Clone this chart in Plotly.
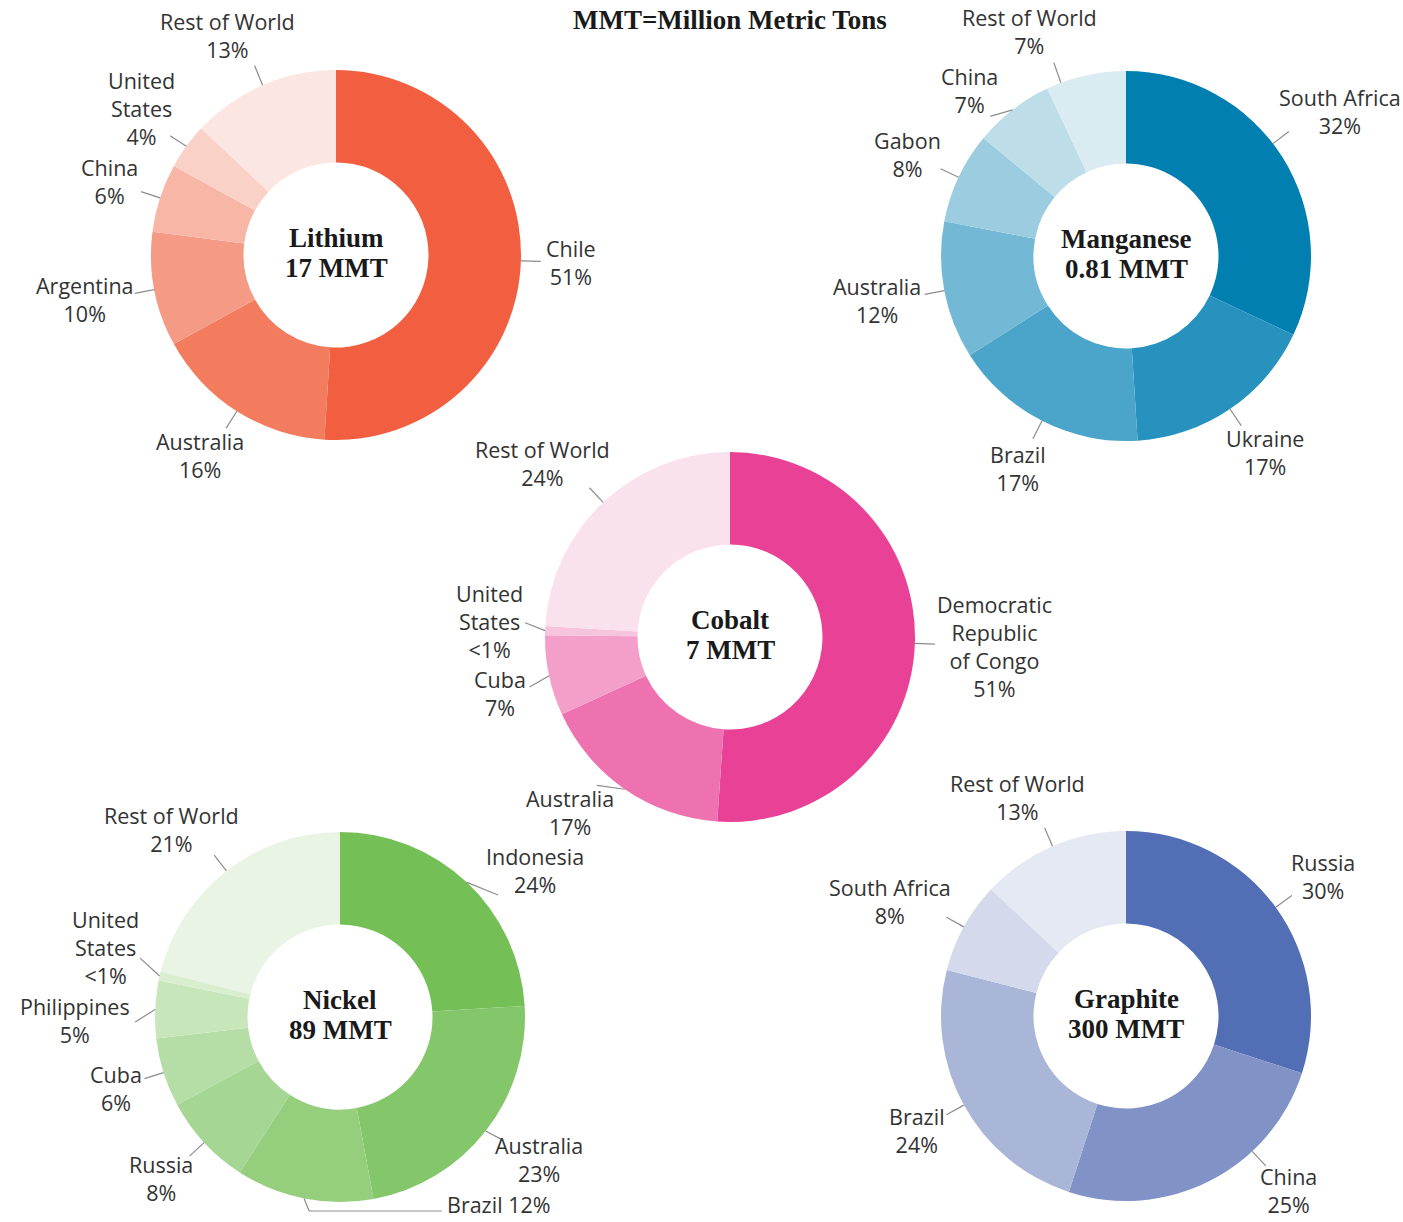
import math
import plotly.graph_objects as go

W, H = 1403, 1222

# ---- data ----
minerals = ["Lithium", "Manganese", "Cobalt", "Nickel", "Graphite"]
reserves_mmt = ["17", "0.81", "7", "89", "300"]

lithium_countries = ["Chile", "Australia", "Argentina", "China", "United States", "Rest of World"]
lithium_share = [51, 16, 10, 6, 4, 13]

manganese_countries = ["South Africa", "Ukraine", "Brazil", "Australia", "Gabon", "China", "Rest of World"]
manganese_share = [32, 17, 17, 12, 8, 7, 7]

cobalt_countries = ["Democratic Republic of Congo", "Australia", "Cuba", "United States", "Rest of World"]
cobalt_share = [51, 17, 7, 0.8, 24]

nickel_countries = ["Indonesia", "Australia", "Brazil", "Russia", "Cuba", "Philippines",
                    "United States", "Rest of World"]
nickel_share = [24, 23, 12, 8, 6, 5, 0.8, 21]

graphite_countries = ["Russia", "China", "Brazil", "South Africa", "Rest of World"]
graphite_share = [30, 25, 24, 8, 13]

# ---- styling ----
lithium_colors = ["#F25F40", "#F37C5F", "#F59A84", "#F8B6A6", "#FAD1C7", "#FCE6E1"]
manganese_colors = ["#017FB1", "#2792BD", "#4BA4CA", "#73B8D4", "#9CCCE0", "#BDDEE9", "#DAEBF2"]
cobalt_colors = ["#E84196", "#EE72B0", "#F39FC9", "#F7C4DD", "#FAE1EE"]
nickel_colors = ["#74C056", "#84C76A", "#95CF7E", "#A5D693", "#B5DDA6", "#C7E6BA", "#D8EECF", "#E9F4E4"]
graphite_colors = ["#526EB4", "#8193C6", "#A9B6D8", "#D4DAEB", "#E5E9F4"]

LABEL_FONT = "Open Sans"
LABEL_FS = 21.5
LINE_H = 1.3 * LABEL_FS
TITLE_FONT = "Liberation Serif"
TITLE_FS = 27
R = 185
LEAD = 20
GAP = 5
PAD = 4
LINE_COLOR = "#8c8c8c"

wrapped = {"United States": ["United", "States"],
           "Democratic Republic of Congo": ["Democratic", "Republic", "of Congo"]}

charts = [
    (lithium_countries, lithium_share, lithium_colors, (336, 255)),
    (manganese_countries, manganese_share, manganese_colors, (1126, 256)),
    (cobalt_countries, cobalt_share, cobalt_colors, (730, 637)),
    (nickel_countries, nickel_share, nickel_colors, (340, 1017)),
    (graphite_countries, graphite_share, graphite_colors, (1126, 1016)),
]
centers = [ch[3] for ch in charts]


def pct(v):
    return "<1%" if v < 1 else f"{v:.0f}%"


def text_w(s, fs=LABEL_FS):
    w = 0
    for ch in s:
        if ch in "iljtfrI1 .,;:'|":
            w += 0.28
        elif ch in "mwMW%":
            w += 0.84
        elif ch.isupper():
            w += 0.64
        else:
            w += 0.56
    return w * fs


def px(x):
    return x / W


def py(y):
    return 1 - y / H


def place(cx, cy, deg, lines):
    a = math.radians(deg)
    s, c = math.sin(a), math.cos(a)
    w = max(text_w(l) for l in lines)
    h = len(lines) * LINE_H
    lx, ly = cx + (R + LEAD) * s, cy - (R + LEAD) * c
    return dict(ex=cx + R * s, ey=cy - R * c, lx=lx, ly=ly, w=w, h=h,
                x=lx + s * (w / 2 + GAP), y=ly - c * (h / 2 + GAP),
                lines=lines, elbow=False)


def inside(it):
    return (it["x"] - it["w"] / 2 >= PAD and it["x"] + it["w"] / 2 <= W - PAD
            and it["y"] - it["h"] / 2 >= PAD and it["y"] + it["h"] / 2 <= H - PAD)


fig = go.Figure()
shapes = []
annotations = []
items = []

for (names, vals, cols, (cx, cy)), mineral, mmt in zip(charts, minerals, reserves_mmt):
    fig.add_trace(go.Pie(
        labels=names, values=vals, hole=0.5, sort=False, direction="clockwise", rotation=0,
        marker=dict(colors=cols, line=dict(width=0)), textinfo="none", showlegend=False,
        domain=dict(x=[px(cx - R), px(cx + R)], y=[py(cy + R), py(cy - R)]),
        hovertemplate="%{label}: %{value}%<extra>" + mineral + "</extra>",
    ))

    total = sum(vals)
    cum = 0
    for name, v in zip(names, vals):
        a0, a1 = cum / total * 360, (cum + v) / total * 360
        cum += v
        mid = (a0 + a1) / 2
        margin = min(4, (a1 - a0) / 4)
        lines = wrapped.get(name, [name]) + [pct(v)]
        it = None
        # look for the angle nearest the slice middle whose label fits the canvas
        for k in range(0, int(a1 - a0) + 1):
            for deg in ([mid] if k == 0 else [mid - k, mid + k]):
                if a0 + margin <= deg <= a1 - margin:
                    cand = place(cx, cy, deg, lines)
                    if inside(cand):
                        it = cand
                        break
            if it:
                break
        if it is None:
            # no room: single line label with an elbow leader to the side
            e = place(cx, cy, mid, lines)
            text = name + " " + pct(v)
            yl = cy + R + 9
            xl = cx + 0.55 * R
            it = dict(ex=e["ex"], ey=e["ey"], w=text_w(text), h=LINE_H, lines=[text], elbow=True,
                      path=[(e["ex"], e["ey"]), (e["ex"] + 5, yl), (xl, yl)])
            it["x"] = xl + 8 + it["w"] / 2
            it["y"] = yl - 1
        it["x0"], it["y0"] = it["x"], it["y"]
        items.append(it)

    annotations.append(dict(xref="paper", yref="paper", x=px(cx), y=py(cy - 17),
                            xanchor="center", yanchor="middle", showarrow=False,
                            text=f"<b>{mineral}</b>",
                            font=dict(family=TITLE_FONT, size=TITLE_FS, color="#1a1a1a")))
    annotations.append(dict(xref="paper", yref="paper", x=px(cx), y=py(cy + 13),
                            xanchor="center", yanchor="middle", showarrow=False,
                            text=f"<b>{mmt} MMT</b>",
                            font=dict(family=TITLE_FONT, size=TITLE_FS, color="#1a1a1a")))

# keep labels from overlapping each other or any donut
for _ in range(400):
    moved = False
    for i in range(len(items)):
        for j in range(i + 1, len(items)):
            a, b = items[i], items[j]
            ox = (a["w"] + b["w"]) / 2 + 6 - abs(a["x"] - b["x"])
            oy = (a["h"] + b["h"]) / 2 + 2 - abs(a["y"] - b["y"])
            if ox > 0 and oy > 0:
                d = oy / 2 + 0.5
                if a["y"] <= b["y"]:
                    a["y"] -= d
                    b["y"] += d
                else:
                    a["y"] += d
                    b["y"] -= d
                moved = True
    for it in items:
        for (qx, qy) in centers:
            nx = min(max(qx, it["x"] - it["w"] / 2), it["x"] + it["w"] / 2)
            ny = min(max(qy, it["y"] - it["h"] / 2), it["y"] + it["h"] / 2)
            dist = math.hypot(nx - qx, ny - qy)
            if 0 < dist < R + 3:
                push = R + 3 - dist + 0.5
                it["x"] += (nx - qx) / dist * push
                it["y"] += (ny - qy) / dist * push
                moved = True
        top, bot = it["y"] - it["h"] / 2, it["y"] + it["h"] / 2
        if top < PAD:
            it["y"] += PAD - top
        if bot > H - PAD:
            it["y"] -= bot - (H - PAD)
    if not moved:
        break

for it in items:
    if it["elbow"]:
        pts = it["path"]
        for (x0, y0), (x1, y1) in zip(pts[:-1], pts[1:]):
            shapes.append(dict(type="line", xref="paper", yref="paper",
                               x0=px(x0), y0=py(y0), x1=px(x1), y1=py(y1),
                               line=dict(color=LINE_COLOR, width=1.2)))
    else:
        dx, dy = it["x"] - it["x0"], it["y"] - it["y0"]
        shapes.append(dict(type="line", xref="paper", yref="paper",
                           x0=px(it["ex"]), y0=py(it["ey"]),
                           x1=px(it["lx"] + dx), y1=py(it["ly"] + dy),
                           line=dict(color=LINE_COLOR, width=1.2)))
    annotations.append(dict(
        xref="paper", yref="paper", x=px(it["x"]), y=py(it["y"]),
        xanchor="center", yanchor="middle", showarrow=False, align="center",
        text="<br>".join(it["lines"]),
        font=dict(family=LABEL_FONT, size=LABEL_FS, color="#333333"),
    ))

annotations.append(dict(xref="paper", yref="paper", x=px(730), y=py(20),
                        xanchor="center", yanchor="middle", showarrow=False,
                        text="<b>MMT=Million Metric Tons</b>",
                        font=dict(family=TITLE_FONT, size=TITLE_FS, color="#1a1a1a")))

fig.update_layout(
    width=W, height=H, autosize=False,
    margin=dict(l=0, r=0, t=0, b=0),
    paper_bgcolor="white", plot_bgcolor="white",
    shapes=shapes, annotations=annotations,
)

fig.write_html("out.html", config={"displayModeBar": False},
               post_script="document.body.style.margin='0';document.body.style.overflow='hidden';")
